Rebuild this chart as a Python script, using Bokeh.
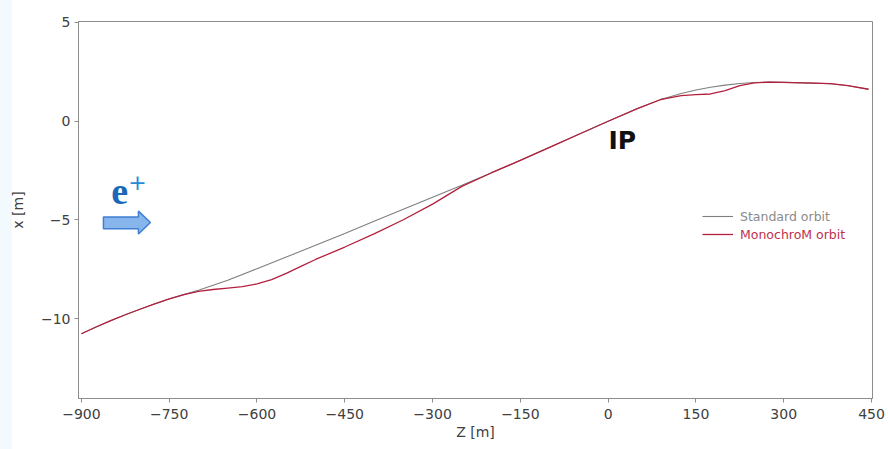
from bokeh.plotting import figure
from bokeh.models import Range1d, FixedTicker, Legend, LegendItem, Label
from bokeh.embed import file_html
from bokeh.resources import INLINE

# ---------------- data ----------------
z_std = [-900, -875, -850, -825, -800, -775, -750, -725, -700, -650, -600,
         -550, -500, -450, -400, -350, -300, -250, -200, -150, -100, -50, 0,
         50, 90, 100, 125, 150, 175, 200, 225, 250, 275, 300, 350, 380, 410, 445]
x_std = [-10.76, -10.42, -10.10, -9.80, -9.52, -9.25, -9.00, -8.78, -8.56,
         -8.05, -7.47, -6.88, -6.28, -5.68, -5.07, -4.46, -3.85, -3.24, -2.62,
         -1.98, -1.32, -0.66, 0.0, 0.64, 1.10, 1.19, 1.40, 1.58, 1.72, 1.83,
         1.91, 1.96, 1.98, 1.97, 1.93, 1.90, 1.80, 1.62]

z_mono = [-900, -875, -850, -825, -800, -775, -750, -725, -700, -675, -650,
          -625, -600, -575, -550, -525, -500, -450, -400, -350, -300, -250,
          -200, -150, -100, -50, 0, 50, 90, 100, 125, 150, 175, 200, 225, 250,
          275, 300, 350, 380, 410, 445]
x_mono = [-10.76, -10.42, -10.10, -9.80, -9.52, -9.25, -9.00, -8.78, -8.62,
          -8.52, -8.45, -8.38, -8.24, -8.02, -7.70, -7.35, -7.00, -6.37, -5.70,
          -4.99, -4.20, -3.30, -2.62, -1.98, -1.32, -0.66, 0.0, 0.64, 1.10,
          1.16, 1.30, 1.35, 1.38, 1.55, 1.80, 1.94, 1.98, 1.97, 1.93, 1.90,
          1.80, 1.62]

x_ticks = [-900, -750, -600, -450, -300, -150, 0, 150, 300, 450]
y_ticks = [-10, -5, 0, 5]

series_names = ["Standard orbit", "MonochroM orbit"]

# decoration (arrow for e+ beam direction), in data units
arrow_z = [-862.4, -802.6, -802.6, -782.1, -802.6, -802.6, -862.4]
arrow_x = [-4.85, -4.85, -4.55, -5.13, -5.71, -5.45, -5.45]

# ---------------- figure ----------------
FONT = "DejaVu Sans"
p = figure(width=888, height=449, output_backend="svg",
           toolbar_location=None,
           x_range=Range1d(-905, 451.7), y_range=Range1d(-14.04, 5.05),
           min_border_left=78, min_border_right=16,
           min_border_top=21, min_border_bottom=51,
           styles={"background": "linear-gradient(to right, #f3fafd 12px, #ffffff 12px)"})

p.background_fill_color = "white"
p.border_fill_alpha = 0
p.outline_line_color = "#8c8c8c"
p.outline_line_width = 1
p.xgrid.visible = False
p.ygrid.visible = False

p.xaxis.ticker = FixedTicker(ticks=x_ticks)
p.yaxis.ticker = FixedTicker(ticks=y_ticks)
p.xaxis.major_label_overrides = {t: str(t).replace("-", "\u2212") for t in x_ticks}
p.yaxis.major_label_overrides = {t: str(t).replace("-", "\u2212") for t in y_ticks}

for ax in (p.xaxis[0], p.yaxis[0]):
    ax.axis_line_color = "#8c8c8c"
    ax.major_tick_line_color = "#8c8c8c"
    ax.minor_tick_line_color = None
    ax.major_tick_out = 4
    ax.major_tick_in = 0
    ax.major_label_text_font = FONT
    ax.major_label_text_font_size = "14px"
    ax.major_label_text_color = "#404040"
    ax.axis_label_text_font = FONT
    ax.axis_label_text_font_size = "14px"
    ax.axis_label_text_font_style = "normal"
    ax.axis_label_text_color = "#404040"

p.xaxis.axis_label = "Z [m]"
p.yaxis.axis_label = "x [m]"
p.xaxis.major_label_standoff = 6
p.xaxis.axis_label_standoff = 2
p.yaxis.major_label_standoff = 4
p.yaxis.axis_label_standoff = 12

r_std = p.line(z_std, x_std, line_color="#7f7f7f", line_width=1.1)
r_mono = p.line(z_mono, x_mono, line_color="#b3203f", line_width=1.3)

# legends (two, since text colours differ)
leg1 = Legend(items=[LegendItem(label=series_names[0], renderers=[r_std])],
              location=(624, 173), label_text_color="#8a8a8a")
leg2 = Legend(items=[LegendItem(label=series_names[1], renderers=[r_mono])],
              location=(624, 155), label_text_color="#c0304c")
for lg in (leg1, leg2):
    lg.border_line_alpha = 0
    lg.background_fill_alpha = 0
    lg.padding = 0
    lg.margin = 0
    lg.spacing = 0
    lg.glyph_width = 31
    lg.glyph_height = 18
    lg.label_height = 18
    lg.label_standoff = 7
    lg.label_text_font = FONT
    lg.label_text_font_size = "12.5px"
    p.add_layout(lg)

# IP label
p.add_layout(Label(x=0.55, y=-0.96, text="IP", text_font=FONT,
                   text_font_size="25px", text_font_style="bold",
                   text_color="#111111", text_baseline="alphabetic"))

# e+ symbol and arrow
p.add_layout(Label(x=-849, y=-3.58, text="e", text_font="Liberation Serif",
                   text_font_size="38px", text_font_style="bold",
                   text_color="#1b67b8", text_baseline="alphabetic"))
p.add_layout(Label(x=-820, y=-3.1, text="+", text_font="DejaVu Sans",
                   text_font_size="22px", text_color="#2a8ad8",
                   text_baseline="alphabetic"))
p.patch(arrow_z, arrow_x, fill_color="#86b6ec", line_color="#3f7fd4",
        line_width=1.5)

open("out.html", "w").write(file_html(p, INLINE))
